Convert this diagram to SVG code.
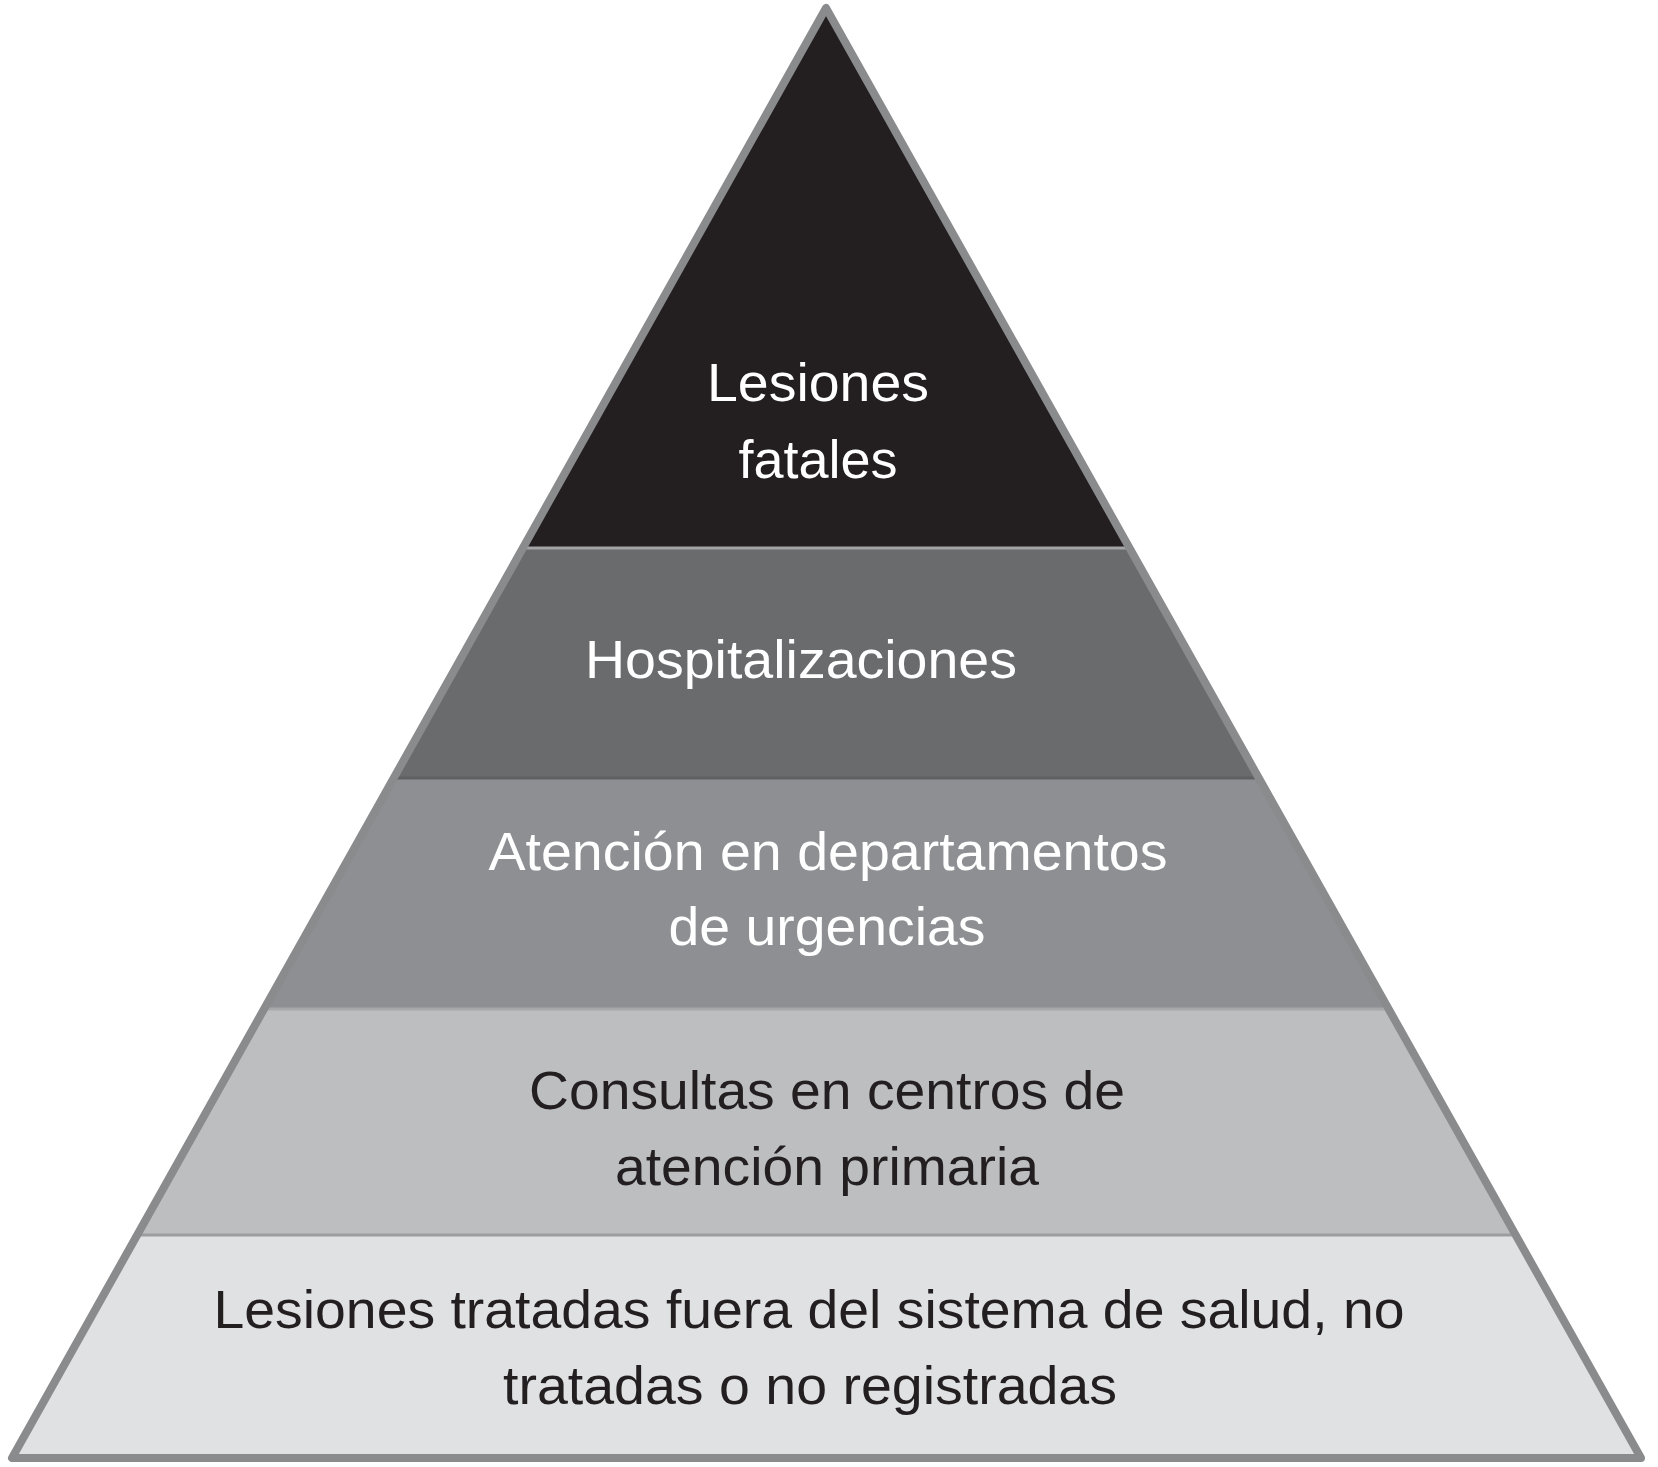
<svg xmlns="http://www.w3.org/2000/svg" width="1658" height="1467" viewBox="0 0 1658 1467">
<style>
.lbl{font-family:"Liberation Sans",Arial,sans-serif;font-size:54px;text-anchor:middle}
.w{fill:#ffffff}
.d{fill:#231f20}
.sep{stroke-width:3;fill:none}
</style>
<defs>
<clipPath id="tri"><polygon points="826,8 12,1458 1641,1458"/></clipPath>
</defs>
<rect width="1658" height="1467" fill="#ffffff"/>
<g clip-path="url(#tri)">
<g id="band1"><rect x="0" y="0" width="1658" height="548" fill="#231f20"/></g>
<g id="band2"><rect x="0" y="548" width="1658" height="230" fill="#6a6b6d"/></g>
<g id="band3"><rect x="0" y="778" width="1658" height="231" fill="#8e8f93"/></g>
<g id="band4"><rect x="0" y="1009" width="1658" height="226" fill="#bdbec0"/></g>
<g id="band5"><rect x="0" y="1235" width="1658" height="225" fill="#e0e1e2"/></g>
<line class="sep" x1="0" y1="548" x2="1658" y2="548" stroke="#a3a4a6"/>
<line class="sep" x1="0" y1="778" x2="1658" y2="778" stroke="#5f6062"/>
<line class="sep" x1="0" y1="1009" x2="1658" y2="1009" stroke="#a7a8aa"/>
<line class="sep" x1="0" y1="1235" x2="1658" y2="1235" stroke="#9c9d9f"/>
</g>
<polygon points="826,8 12,1458 1641,1458" fill="none" stroke="#8a8b8d" stroke-width="8" stroke-linejoin="round"/>
<g id="t1">
<text class="lbl w" x="818" y="401" textLength="222" lengthAdjust="spacingAndGlyphs">Lesiones</text>
<text class="lbl w" x="818" y="478">fatales</text>
</g>
<g id="t2">
<text class="lbl w" x="801" y="678" textLength="432" lengthAdjust="spacingAndGlyphs">Hospitalizaciones</text>
</g>
<g id="t3">
<text class="lbl w" x="828" y="870" textLength="679" lengthAdjust="spacingAndGlyphs">Atención en departamentos</text>
<text class="lbl w" x="827" y="945" textLength="317" lengthAdjust="spacingAndGlyphs">de urgencias</text>
</g>
<g id="t4">
<text class="lbl d" x="827" y="1109" textLength="596" lengthAdjust="spacingAndGlyphs">Consultas en centros de</text>
<text class="lbl d" x="827" y="1185" textLength="424" lengthAdjust="spacingAndGlyphs">atención primaria</text>
</g>
<g id="t5">
<text class="lbl d" x="809" y="1328" textLength="1191" lengthAdjust="spacingAndGlyphs">Lesiones tratadas fuera del sistema de salud, no</text>
<text class="lbl d" x="810" y="1404" textLength="614" lengthAdjust="spacingAndGlyphs">tratadas o no registradas</text>
</g>
</svg>
